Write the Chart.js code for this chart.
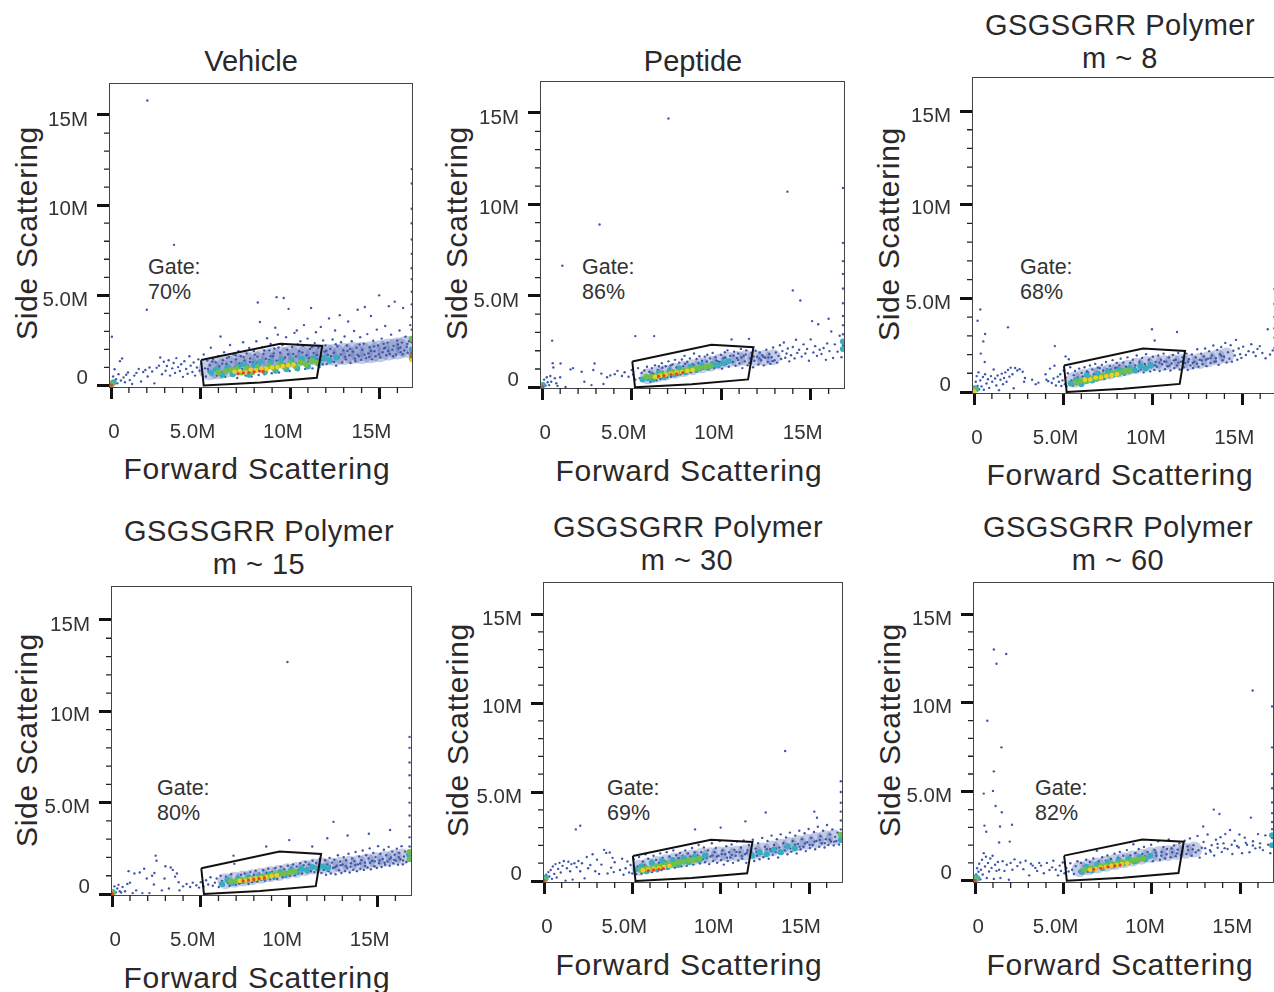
<!DOCTYPE html>
<html>
<head>
<meta charset="utf-8">
<title>Forward and side scattering gates</title>
<script src="https://cdn.jsdelivr.net/npm/chart.js@4"></script>
<style>
html,body{margin:0;padding:0;background:#fff}
#stage{position:relative;width:1274px;height:992px;overflow:hidden;font-family:"Liberation Sans",Arial,sans-serif;color:#2b2829}
#stage canvas{position:absolute}
.txt{position:absolute;white-space:nowrap;transform:translate(-50%,-50%);line-height:1}
.head{font-size:29px}
.wide{font-size:29px;letter-spacing:.5px}
.axis{font-size:30px;letter-spacing:.75px}
.side{font-size:30px;letter-spacing:.7px;transform:translate(-50%,-50%) rotate(-90deg)}
.gate{font-size:21.5px;transform:translateY(-50%);color:#333}
</style>
</head>
<body>
<div id="stage"></div>
<script>
// Axis ticks (values in millions)
const majorTicks = [0, 5, 10, 15];
const majorLabels = ['0', '5.0M', '10M', '15M'];
const xMinorTicks = [1, 2, 3, 4, 6, 7, 8, 9, 11, 12, 13, 14, 16];
const yMinorTicks = [1, 2, 3, 4, 6, 7, 8, 9, 11, 12, 13, 14];

// Gate outline, same in every panel
const gateX = [5.03, 9.45, 11.8, 11.5, 8.35, 5.18, 5.03];
const gateY = [1.41, 2.32, 2.19, 0.43, 0.17, 0.0, 1.41];

const gatePercents = ['70%', '86%', '68%', '80%', '69%', '82%'];

const vehicleBlue = [
0.05,0.22,0.12,0.5,0.2,0.9,0.28,0.35,0.35,0.12,0.42,0.63,0.5,1.35,0.55,0.28,0.62,1.5,0.7,0.45,0.78,0.18,0.85,0.6,0.95,0.72,1.05,0.3,1.18,0.08,1.3,0.55,1.42,0.7,1.55,0.92,1.68,0.22,1.8,0.75,1.92,0.86,2.05,0.5,2.15,1.0,2.3,0.78,2.42,0.12,2.55,0.98,2.68,1.1,2.75,1.55,2.85,0.62,2.95,1.32,3.05,0.82,3.12,1.08,3.22,1.4,3.3,0.55,3.42,0.95,3.5,1.25,3.58,0.7,3.65,1.52,3.75,1.02,3.85,0.8,3.92,1.18,4.02,0.48,4.1,1.35,4.2,0.92,4.28,0.65,4.38,1.62,4.45,1.1,4.55,0.75,4.62,1.28,4.7,0.55,4.8,1.0,4.88,1.45,4.95,0.82,
5.05,1.2,5.1,0.62,5.18,1.72,5.25,0.95,5.3,0.5,5.38,1.38,5.45,0.78,5.52,1.12,5.58,2.1,5.65,0.62,5.7,1.48,5.78,0.9,5.85,1.28,5.92,0.55,5.98,1.62,6.05,1.05,6.12,2.72,6.18,0.72,6.25,1.4,6.32,1.85,6.38,0.48,6.45,1.18,6.52,0.85,6.58,1.58,6.65,2.25,6.72,1.3,6.78,0.6,6.85,1.72,6.92,1.02,6.98,1.45,7.05,0.42,7.12,1.9,7.18,1.22,7.25,1.62,7.32,0.9,7.38,2.4,7.45,1.38,7.52,0.55,7.58,1.78,7.65,1.1,7.72,2.08,7.78,1.5,7.85,0.5,7.92,1.28,7.98,1.92,
8.05,1.05,8.12,2.45,8.18,1.6,8.25,0.58,8.32,3.52,8.38,1.35,8.45,2.12,8.52,1.75,8.58,0.62,8.65,1.48,8.72,2.62,8.78,1.18,8.85,1.95,8.92,2.3,8.98,0.68,9.05,1.62,9.12,2.05,9.18,3.2,9.25,1.38,9.32,2.82,9.38,0.72,9.45,1.82,9.52,1.25,9.58,2.25,9.65,4.85,9.72,1.55,9.78,2.68,9.85,1.98,9.92,4.25,9.98,0.8,10.05,1.4,10.12,2.15,10.18,1.75,10.25,2.92,10.32,1.22,10.38,3.05,10.45,0.85,10.52,1.9,10.58,2.45,10.65,1.5,10.72,2.2,10.78,3.35,10.85,0.92,10.92,1.68,10.98,2.6,11.05,1.32,11.12,2.02,11.18,4.3,11.25,0.95,11.32,1.8,11.38,2.35,11.45,2.95,11.52,1.45,11.58,2.1,11.65,1.02,11.72,3.25,11.78,1.62,11.85,2.5,11.92,1.88,11.98,2.22,
12.05,1.2,12.12,1.7,12.18,3.72,12.25,2.02,12.32,1.35,12.38,2.55,12.45,1.82,12.52,3.05,12.58,1.1,12.65,2.18,12.72,1.55,12.78,3.9,12.85,2.4,12.92,1.28,12.98,1.95,13.05,2.72,13.12,1.45,13.18,2.22,13.25,3.55,13.32,1.68,13.38,1.25,13.45,2.45,13.52,1.88,13.58,3.02,13.65,1.35,13.72,2.1,13.78,4.2,13.85,1.62,13.92,2.68,13.98,1.42,14.05,1.98,14.12,2.32,14.18,4.35,14.25,1.52,14.32,2.85,14.38,1.78,14.45,2.12,14.52,3.85,14.58,1.45,14.65,2.48,14.72,1.9,14.78,1.62,14.85,3.1,14.92,2.22,14.98,5.0,15.05,1.55,15.12,2.6,15.18,1.85,15.25,2.05,15.32,3.3,15.38,1.68,15.45,2.38,15.52,4.4,15.58,1.75,15.65,2.82,15.72,1.98,15.78,2.2,15.85,4.65,15.92,1.72,15.98,2.5,16.05,2.05,16.12,3.05,16.18,1.85,16.25,2.38,16.32,4.3,16.38,1.95,16.45,2.7,16.52,2.15,16.58,1.82,16.65,2.45,16.72,3.35,
16.8,2.4,16.8,3.1,16.8,3.8,16.8,4.5,16.8,5.2,16.8,5.9,16.8,6.5,16.8,7.3,16.8,8.1,16.8,9.0,16.8,9.8,16.8,11.2,16.8,12.0,
2.03,15.8,3.52,7.8,2.0,4.2,0.05,2.7,9.25,4.9,8.2,4.6,
5.41,0.92,5.67,1.33,5.93,0.77,6.21,1.21,6.47,1.52,6.74,0.92,6.97,1.68,7.23,1.08,7.49,1.91,7.76,1.31,8.03,1.71,8.29,1.13,8.56,1.94,8.83,1.42,9.09,1.78,9.36,2.11,9.63,1.46,9.89,1.73,10.16,1.33,10.43,2.27,10.69,1.83,10.96,1.27,11.23,2.13,11.49,1.69,11.76,1.41,12.03,1.93,12.29,1.62,12.56,2.29,12.83,1.72,13.09,1.59,13.36,2.03,13.63,1.49,13.89,2.27,14.16,1.71,14.43,1.58,14.69,2.17,14.96,1.72,15.23,2.31,15.49,1.91,15.76,1.62,16.03,2.27,16.29,1.73,16.56,2.31,6.63,1.03,7.41,1.59,8.17,1.29,8.91,1.63,9.69,1.17,10.33,1.61,11.08,1.51,11.83,1.17,12.47,1.31,13.21,1.91,13.77,1.71,14.53,1.92,15.31,2.09,16.17,2.11];
const vehicleHaze = [
5.5,0.9,6.0,0.95,6.5,1.05,7.0,1.15,7.5,1.25,8.0,1.3,8.5,1.4,9.0,1.5,9.5,1.55,10.0,1.6,10.5,1.65,11.0,1.7,11.5,1.7,12.0,1.7,12.5,1.7,13.0,1.75,13.5,1.8,14.0,1.8,14.5,1.85,15.0,1.9,15.5,2.0,16.0,2.05,16.5,2.15];
const vehicleCyan = [
0.05,0.1,0.15,0.18,5.6,0.72,5.9,0.9,6.2,0.58,6.5,1.0,6.8,0.62,7.1,1.02,7.4,1.2,7.7,0.6,8.0,1.12,8.3,1.3,8.6,0.75,8.9,1.28,9.2,0.82,9.5,1.4,9.8,0.9,10.1,1.42,10.4,0.95,10.7,1.5,11.0,1.05,11.3,1.52,11.6,1.2,11.9,1.5,12.2,1.4,12.6,1.55,16.8,1.7,16.8,2.0];
const vehicleGreen = [
0.04,0.06,6.0,0.72,6.4,0.8,6.7,0.88,7.0,0.92,7.3,0.72,7.6,0.98,7.9,0.74,8.2,1.02,8.5,0.84,8.8,1.08,9.1,0.96,9.4,1.15,9.7,1.02,10.0,1.22,10.3,1.08,10.6,1.28,10.9,1.18,11.2,1.36,11.5,1.3,16.8,1.5,16.8,2.6];
const vehicleYellow = [
6.9,0.76,7.2,0.8,7.5,0.72,7.8,0.86,8.1,0.84,8.4,0.92,8.7,0.92,9.0,1.0,9.3,1.02,9.6,1.08,9.9,1.12,10.2,1.16,16.8,1.4];
const vehicleRed = [
0.03,0.03,7.1,0.66,7.4,0.7,7.7,0.72,8.0,0.76,8.3,0.8,8.5,0.78,16.8,1.6,16.8,1.8];

const peptideBlue = [
0.05,0.2,0.1,0.42,0.18,0.1,0.25,0.55,0.3,0.28,0.38,0.12,0.45,0.62,0.5,0.3,0.55,2.55,0.58,1.32,0.62,1.08,0.7,0.5,0.78,0.22,0.85,0.08,1.0,0.55,1.02,1.3,1.12,6.65,1.3,0.02,1.58,0.98,1.72,1.05,2.2,0.85,2.35,0.3,2.75,0.12,2.85,0.95,2.92,1.3,3.3,0.75,3.42,0.18,3.62,0.55,3.8,0.65,4.05,0.72,4.2,0.9,4.45,0.62,4.6,0.82,4.82,0.58,5.0,0.95,5.08,0.7,5.2,0.42,5.35,1.05,5.45,0.5,5.55,0.78,5.62,0.35,5.7,0.92,5.78,0.6,5.85,1.12,5.92,0.42,5.98,0.85,6.05,0.3,6.12,1.05,6.2,0.72,6.25,2.8,6.3,1.2,6.38,0.38,6.45,0.95,6.52,1.15,6.6,0.45,6.68,1.32,6.75,0.82,6.82,0.5,6.9,1.15,6.98,0.55,7.05,1.42,7.12,1.02,7.2,0.58,7.28,1.25,7.35,0.62,7.42,1.5,7.5,1.08,7.58,0.68,7.65,1.35,7.72,0.72,7.8,1.52,7.88,1.15,7.95,1.72,8.02,0.78,8.1,1.4,8.18,0.88,8.25,1.58,8.32,0.82,8.4,1.28,8.48,1.85,8.55,0.9,8.62,1.55,8.7,1.05,8.78,1.7,8.85,0.95,8.92,1.45,9.0,1.02,9.08,1.68,9.15,1.12,9.22,1.78,9.3,0.98,9.38,1.58,9.45,1.15,9.52,1.88,9.6,1.05,9.68,1.65,9.75,1.22,9.82,1.42,9.9,1.12,9.98,1.78,10.05,1.02,10.12,1.58,10.2,1.92,10.28,1.28,10.35,2.02,10.42,1.12,10.5,1.72,10.58,2.62,10.65,1.38,10.72,1.95,10.8,1.18,10.88,1.6,10.95,1.85,11.02,1.3,11.1,2.1,11.18,1.05,11.25,1.72,11.32,1.42,11.4,2.02,11.48,1.2,11.55,2.65,11.62,1.58,11.7,1.88,11.78,1.1,11.85,1.45,11.92,2.0,12.0,1.68,12.08,1.25,12.15,1.9,12.22,1.48,12.3,1.75,12.38,1.2,12.45,1.62,12.52,2.05,12.6,1.38,12.68,1.82,12.75,1.28,12.82,1.65,12.9,2.18,12.98,1.48,13.05,1.9,13.12,1.35,13.2,1.72,13.28,2.3,13.35,1.55,13.42,1.98,13.5,2.45,13.58,1.62,13.65,1.85,13.72,2.12,13.8,1.42,13.9,1.75,14.0,2.2,14.1,1.58,14.18,2.6,14.25,1.88,14.35,2.05,14.42,4.75,14.5,1.68,14.6,2.35,14.7,1.85,14.8,2.1,14.9,1.45,15.0,2.62,15.08,3.62,15.15,1.9,15.25,2.25,15.35,1.72,15.42,3.45,15.5,2.05,15.6,1.82,15.72,2.15,15.85,1.5,15.92,2.4,16.0,3.75,16.05,1.98,16.15,3.05,16.25,1.6,16.35,2.35,16.5,1.95,16.62,2.82,16.72,1.65,
16.8,2.3,16.8,2.9,16.8,3.4,16.8,3.9,16.8,4.6,16.8,5.4,16.8,6.2,16.8,6.9,16.8,7.9,16.8,10.9,
3.2,8.9,7.05,14.7,13.7,10.7,14.0,5.3,5.2,2.8,
6.11,0.77,6.43,0.63,6.71,1.07,6.93,0.69,7.17,1.19,7.46,0.83,7.69,1.03,7.97,1.29,8.23,1.07,8.47,1.19,8.73,1.33,8.97,1.23,9.19,1.41,9.43,1.33,9.71,1.47,9.93,1.39,10.23,1.63,10.47,1.41,10.69,1.73,10.93,1.49,11.13,1.63,11.37,1.79,11.57,1.33,11.81,1.69,12.13,1.58,12.37,1.67,12.63,1.63,12.87,1.43];
const peptideHaze = [
5.9,0.6,6.4,0.7,6.9,0.8,7.4,0.9,7.9,1.0,8.4,1.1,8.9,1.2,9.4,1.3,9.9,1.4,10.4,1.5,10.9,1.55,11.4,1.6,11.9,1.6,12.4,1.6,12.9,1.65];
const peptideCyan = [
0.03,0.12,5.6,0.42,5.9,0.5,6.2,0.42,6.5,0.78,6.8,0.55,7.1,0.88,7.4,0.72,7.7,1.02,8.0,0.82,8.3,1.12,8.6,0.95,8.9,1.22,9.2,1.08,9.5,1.28,9.8,1.2,10.1,1.32,10.4,1.42,16.8,2.1,16.8,2.5];
const peptideGreen = [
5.8,0.58,6.1,0.6,6.4,0.62,6.7,0.72,7.0,0.74,7.3,0.84,7.6,0.84,7.9,0.92,8.2,0.96,8.5,1.02,8.8,1.06,9.1,1.12,9.4,1.16];
const peptideYellow = [
6.3,0.58,6.6,0.64,6.9,0.7,7.2,0.74,7.5,0.8,7.8,0.84,8.1,0.9,8.4,0.95];
const peptideRed = [
0.02,0.04,6.5,0.6,6.8,0.64,7.2,0.7,7.5,0.74,7.85,0.8];

const polymer8Blue = [
0.05,0.25,0.1,0.55,0.15,0.85,0.2,0.32,0.25,1.05,0.28,0.15,0.35,0.62,0.42,0.3,0.5,0.8,0.55,0.12,0.62,0.95,0.7,0.45,0.78,0.68,0.85,0.22,0.95,0.85,1.02,0.55,1.1,1.2,1.18,0.72,1.25,0.35,1.32,0.88,1.4,0.1,1.48,0.65,1.55,0.98,1.62,0.42,1.68,0.75,1.75,1.05,1.82,0.55,1.9,1.18,1.98,0.82,2.05,1.3,2.15,0.95,2.22,0.2,2.3,1.28,2.42,1.15,2.55,1.22,2.72,1.08,2.8,0.55,2.85,0.75,3.25,0.65,3.45,0.42,3.6,0.5,4.0,0.95,4.05,0.65,4.15,0.58,4.25,1.25,4.35,0.48,4.45,0.72,4.5,1.4,4.58,0.35,4.68,0.82,4.75,0.55,4.82,0.95,4.88,0.32,4.95,0.62,5.02,1.15,5.08,0.42,5.12,0.78,5.18,0.3,5.25,1.0,5.32,0.48,5.38,1.32,5.45,0.62,5.52,0.35,5.58,0.9,5.65,1.12,5.72,0.42,5.8,0.78,5.88,1.25,5.95,0.48,6.02,1.02,6.1,0.62,6.18,1.32,6.25,0.5,6.32,1.1,6.4,0.82,6.48,1.42,6.55,0.58,6.62,1.2,6.7,0.95,6.78,1.5,6.85,0.62,6.92,1.3,7.0,1.05,7.08,0.72,7.15,1.45,7.22,1.15,7.3,0.7,7.38,1.6,7.45,1.22,7.52,0.8,7.6,1.38,7.68,1.02,7.75,1.7,7.82,0.85,7.9,1.28,7.98,1.55,8.05,0.88,8.12,1.42,8.2,1.78,8.28,1.0,8.35,1.58,8.42,0.92,8.5,1.35,8.58,1.85,8.65,1.02,8.72,1.55,8.8,1.18,8.88,1.72,8.95,1.08,9.02,1.42,9.1,1.95,9.18,1.12,9.25,1.62,9.32,1.2,9.4,1.82,9.48,1.05,9.55,1.5,9.62,2.02,9.7,1.28,9.78,1.72,9.85,1.1,9.92,1.45,10.0,1.88,10.08,1.18,10.15,1.6,10.22,1.35,10.3,1.95,10.38,1.12,10.45,1.72,10.52,1.48,10.6,2.05,10.68,1.22,10.75,1.62,10.82,1.38,10.9,1.85,10.98,1.15,11.05,1.52,11.12,1.98,11.2,1.28,11.28,1.72,11.35,1.42,11.42,2.08,11.5,1.2,11.58,1.62,11.65,1.85,11.72,1.32,11.8,1.55,11.88,2.05,11.95,1.18,12.02,1.75,12.1,1.42,12.18,2.0,12.25,1.28,12.32,1.62,12.4,1.85,12.48,2.28,12.55,1.35,12.62,1.72,12.7,2.05,12.78,1.48,12.85,1.9,12.92,2.32,13.0,1.38,13.08,1.78,13.15,2.18,13.22,1.55,13.3,1.95,13.38,2.48,13.45,1.62,13.52,1.8,13.6,2.25,13.68,1.45,13.75,2.02,13.82,2.4,13.9,1.7,13.98,1.88,14.05,2.62,14.12,1.58,14.2,2.12,14.28,1.78,14.35,2.5,14.42,1.62,14.5,2.2,14.58,1.95,14.65,2.78,14.72,1.72,14.8,2.32,14.88,2.02,14.95,1.82,15.05,2.42,15.2,1.98,15.35,2.18,15.5,2.55,15.62,2.12,15.75,1.92,15.85,2.3,15.98,2.45,16.12,2.08,16.3,1.8,16.42,3.35,16.55,2.0,16.7,2.22,
16.8,2.35,16.8,2.9,16.8,3.4,16.8,4.0,16.8,4.7,16.8,5.5,
0.35,4.4,0.2,3.8,0.62,3.1,0.52,2.7,0.38,2.05,0.6,1.6,1.9,3.45,9.95,3.35,11.35,3.2,10.1,2.75,5.12,1.9,5.3,1.75,4.52,2.45,
5.63,0.71,6.07,0.83,6.37,1.03,6.67,0.77,7.03,1.27,7.33,0.93,7.63,1.21,8.01,1.31,8.33,1.21,8.67,1.37,8.99,1.27,9.27,1.51,9.59,1.38,9.83,1.53,10.11,1.43,10.37,1.57,10.63,1.63,10.93,1.41,11.17,1.69,11.43,1.57,11.69,1.67,11.97,1.62,12.23,1.55,12.47,1.51,12.73,1.69,12.97,1.72,13.23,1.81,13.53,1.63,13.83,1.92];
const polymer8Haze = [
5.6,0.65,6.1,0.8,6.6,0.9,7.1,1.0,7.6,1.1,8.1,1.2,8.6,1.3,9.1,1.4,9.6,1.5,10.1,1.55,10.6,1.55,11.1,1.6,11.6,1.6,12.1,1.6,12.6,1.65,13.1,1.75,13.6,1.85,14.1,1.95];
const polymer8Cyan = [
0.04,0.2,0.12,0.15,5.4,0.45,5.7,0.65,6.0,0.42,6.3,0.88,6.6,0.62,6.9,0.98,7.2,0.82,7.5,1.1,7.8,0.95,8.1,1.18,8.4,1.05,8.7,1.28,9.0,1.15,9.3,1.38,9.6,1.25,9.9,1.42];
const polymer8Green = [
0.02,0.1,5.7,0.5,6.0,0.6,6.3,0.58,6.6,0.74,6.9,0.72,7.2,0.9,7.5,0.88,7.8,1.02,8.1,1.0,8.4,1.12,8.7,1.12];
const polymer8Yellow = [
0.02,0.03,6.2,0.66,6.5,0.66,6.8,0.76,7.1,0.78,7.4,0.84,7.7,0.9,8.0,0.94];
const polymer8Red = [];

const polymer15Blue = [
0.05,0.18,0.12,0.42,0.2,0.08,0.28,0.3,0.35,0.5,0.42,0.15,0.5,0.08,0.58,0.38,0.72,0.15,0.85,0.55,0.92,1.25,1.0,0.62,1.15,0.05,1.25,1.12,1.35,0.2,1.55,1.18,1.7,0.05,1.8,1.38,1.95,0.85,2.1,0.05,2.25,1.0,2.35,0.52,2.38,1.15,2.45,2.1,2.5,1.82,2.8,0.2,2.95,0.85,3.0,1.52,3.2,0.3,3.3,1.45,3.42,1.32,3.55,0.95,3.65,1.12,3.75,0.65,3.8,0.2,4.0,0.42,4.2,0.55,4.4,0.38,4.55,0.62,4.75,0.48,4.9,0.35,5.0,0.65,5.15,0.42,5.3,0.75,5.42,0.52,5.55,0.92,5.68,0.45,5.8,0.62,5.9,0.85,6.02,0.38,6.12,1.0,6.2,0.72,6.3,0.48,6.42,0.95,6.52,0.62,6.62,0.45,6.72,1.08,6.8,0.7,6.9,1.65,6.98,0.5,7.08,0.95,7.18,0.58,7.28,1.05,7.38,0.62,7.48,1.12,7.58,0.72,7.7,0.55,7.8,1.2,7.9,0.65,8.0,1.05,8.1,1.28,8.2,0.68,8.3,1.12,8.42,0.78,8.52,1.3,8.62,0.72,8.72,1.15,8.82,1.38,8.92,0.8,9.02,1.2,9.12,0.85,9.22,1.42,9.32,0.82,9.42,1.28,9.52,1.5,9.62,0.92,9.72,1.35,9.82,0.95,9.92,1.55,10.02,1.0,10.12,1.42,10.22,1.62,10.32,1.02,10.42,1.5,10.52,1.12,10.62,1.68,10.72,1.12,10.82,1.58,10.92,1.75,11.02,1.18,11.12,1.62,11.22,1.25,11.32,1.82,11.42,1.2,11.52,1.7,11.62,1.35,11.72,1.92,11.82,1.15,11.88,1.55,11.95,1.32,12.02,1.85,12.08,1.05,12.15,1.62,12.22,1.25,12.28,1.98,12.35,1.12,12.42,1.72,12.48,1.42,12.55,1.88,12.62,1.08,12.68,1.55,12.75,2.12,12.82,1.3,12.88,1.78,12.95,1.15,13.02,1.62,13.08,2.02,13.15,1.25,13.22,1.85,13.28,1.42,13.35,2.2,13.42,1.18,13.48,1.68,13.55,1.95,13.62,1.32,13.68,1.8,13.75,2.3,13.82,1.25,13.88,1.62,13.95,2.05,14.02,1.38,14.08,1.85,14.15,2.38,14.22,1.32,14.28,1.72,14.35,2.12,14.42,1.45,14.48,1.95,14.55,2.5,14.62,1.35,14.68,1.82,14.75,2.25,14.82,1.52,14.88,2.02,14.95,1.42,15.02,2.62,15.08,1.68,15.15,2.2,15.22,1.48,15.28,1.92,15.35,2.42,15.42,1.6,15.48,2.12,15.55,1.78,15.62,2.58,15.68,1.55,15.75,2.0,15.82,2.32,15.88,1.68,15.95,2.15,16.02,1.82,16.08,2.48,16.15,1.6,16.22,2.25,16.28,1.9,16.35,2.62,16.42,1.62,16.48,2.05,16.55,2.32,16.62,1.75,16.68,2.18,16.75,1.92,
16.8,2.6,16.8,3.1,16.8,3.7,16.8,4.3,16.8,5.0,16.8,5.8,16.8,6.5,16.8,7.2,16.8,8.0,16.8,8.6,
9.9,12.7,12.5,3.95,14.5,3.3,15.7,3.5,12.15,3.05,13.3,3.2,10.0,2.95,11.3,2.6,6.85,2.1,8.7,2.6,
11.71,1.53,12.03,1.41,12.31,1.51,12.59,1.47,12.91,1.58,13.19,1.53,13.46,1.49,13.73,1.59,14.01,1.67,14.29,1.53,14.57,1.71,14.83,1.79,15.11,1.83,15.39,1.71,15.67,1.91,15.93,1.87,16.19,2.01,16.43,1.84,10.57,1.33,10.97,1.41,11.27,1.53,11.57,1.41];
const polymer15Haze = [
6.4,0.7,6.9,0.78,7.4,0.85,7.9,0.92,8.4,1.0,8.9,1.08,9.4,1.15,9.9,1.25,10.4,1.32,10.9,1.42,11.4,1.5,11.9,1.55,12.4,1.55,12.9,1.6,13.4,1.65,13.9,1.7,14.4,1.78,14.9,1.85,15.4,1.92,15.9,2.0,16.4,2.05];
const polymer15Cyan = [
0.03,0.1,6.2,0.55,6.5,0.78,6.8,0.6,7.1,0.82,7.4,0.7,7.7,0.92,8.0,0.8,8.3,0.98,8.6,0.9,8.9,1.08,9.2,1.0,9.5,1.18,9.8,1.1,10.1,1.28,10.4,1.2,10.7,1.38,11.0,1.3,11.3,1.48,11.6,1.4,11.9,1.5,12.2,1.42,16.8,2.1];
const polymer15Green = [
0.02,0.05,6.7,0.7,7.0,0.72,7.3,0.78,7.6,0.78,7.9,0.86,8.2,0.88,8.5,0.94,8.8,0.96,9.1,1.04,9.4,1.08,9.7,1.14,10.0,1.18,10.3,1.24,16.8,1.9,16.8,2.3];
const polymer15Yellow = [
7.2,0.72,7.5,0.74,7.8,0.8,8.1,0.84,8.4,0.88,8.7,0.92,9.0,0.98,9.3,1.02];
const polymer15Red = [
0.01,0.02,7.4,0.72,7.7,0.76,8.0,0.8,8.3,0.84,8.6,0.88];

const polymer30Blue = [
0.05,0.15,0.12,0.35,0.18,0.08,0.25,0.5,0.3,0.25,0.38,0.62,0.45,0.12,0.5,0.82,0.58,0.4,0.65,0.95,0.72,0.2,0.8,0.68,0.88,1.02,0.95,0.48,1.05,0.85,1.12,1.12,1.22,0.02,1.3,0.72,1.38,1.08,1.48,0.55,1.55,0.95,1.62,0.08,1.72,1.0,1.8,2.9,1.85,0.78,1.95,1.12,2.05,0.55,2.15,1.0,2.3,0.15,2.42,1.35,2.5,0.72,2.62,0.9,2.75,1.5,2.9,0.55,3.0,1.2,3.12,0.4,3.25,0.92,3.4,1.75,3.52,1.58,3.6,0.42,3.72,1.6,3.8,0.75,3.88,1.3,3.95,0.5,4.0,1.05,4.3,0.62,4.42,1.25,4.5,0.35,4.62,0.72,4.72,1.1,4.82,0.48,4.9,0.9,5.0,0.42,5.08,1.22,5.15,0.55,5.22,0.38,5.3,0.82,5.38,1.35,5.45,0.62,5.52,0.42,5.6,1.1,5.68,0.88,5.75,1.5,5.82,0.48,5.9,1.25,5.98,0.62,6.05,1.02,6.12,0.5,6.2,1.42,6.28,0.72,6.35,1.18,6.42,0.55,6.5,1.02,6.58,1.55,6.65,0.62,6.72,1.3,6.8,0.7,6.88,1.1,6.95,1.62,7.02,0.68,7.1,1.38,7.18,0.82,7.25,1.2,7.32,1.72,7.4,0.75,7.48,1.45,7.55,0.9,7.62,1.28,7.7,1.58,7.78,0.82,7.85,1.42,7.92,1.02,8.0,1.72,8.08,0.85,8.15,1.55,8.22,1.18,8.3,1.38,8.38,1.85,8.45,0.92,8.52,1.6,8.6,1.12,8.68,1.42,8.75,2.02,8.82,0.98,8.9,1.62,8.98,1.22,9.05,1.88,9.12,1.05,9.2,1.5,9.28,1.72,9.35,0.95,9.42,1.38,9.5,2.12,9.58,1.12,9.65,1.62,9.72,1.85,9.8,1.02,9.88,1.42,9.95,2.25,10.02,1.18,10.1,1.72,10.18,0.92,10.25,1.5,10.32,1.95,10.4,1.12,10.48,1.62,10.55,1.32,10.62,2.05,10.7,1.02,10.78,1.75,10.85,1.42,10.92,2.22,11.0,1.15,11.08,1.62,11.15,1.88,11.22,1.25,11.3,2.28,11.38,1.5,11.45,1.02,11.52,1.72,11.6,2.02,11.68,1.32,11.75,1.58,11.82,2.32,11.9,1.12,11.98,1.82,12.05,1.42,12.12,2.12,12.2,1.22,12.28,1.68,12.35,2.42,12.42,1.35,12.5,1.92,12.58,1.58,12.65,2.25,12.72,1.25,12.8,1.78,12.88,2.55,12.95,1.48,13.02,2.02,13.1,1.62,13.18,2.35,13.25,1.32,13.32,1.88,13.4,2.62,13.48,1.55,13.55,2.12,13.62,1.72,13.7,2.45,13.78,1.5,13.85,1.98,13.92,2.72,14.0,1.65,14.08,2.25,14.15,1.85,14.22,2.55,14.3,1.55,14.38,2.08,14.45,2.82,14.52,1.78,14.6,2.35,14.68,1.92,14.75,2.68,14.82,1.68,14.9,2.18,14.98,2.92,15.05,1.85,15.12,2.42,15.2,2.02,15.28,2.75,15.35,1.78,15.42,2.25,15.5,3.05,15.58,1.92,15.65,2.52,15.72,2.12,15.8,2.82,15.88,1.88,15.95,2.35,16.02,3.15,16.1,2.02,16.18,2.62,16.25,2.22,16.32,2.9,16.4,2.0,16.48,2.48,16.55,2.25,16.62,2.72,16.7,2.05,16.76,2.42,
16.8,2.9,16.8,3.4,16.8,3.9,16.8,4.4,16.8,5.0,16.8,5.6,
13.65,7.3,15.3,3.9,11.4,3.35,12.55,3.85,10.0,3.0,8.55,2.9,2.05,3.1,15.45,3.55,
9.21,1.31,9.53,1.43,9.79,1.37,10.07,1.51,10.36,1.31,10.63,1.47,10.89,1.63,11.19,1.41,11.47,1.57,11.73,1.49,12.03,1.63,12.31,1.53,12.61,1.79,12.87,1.67,13.13,1.83,13.41,1.71,13.67,1.93,13.94,1.83,14.21,2.03,14.47,1.93,14.77,2.11,15.03,2.03,15.31,2.21,15.61,2.31,15.89,2.13,16.17,2.33,16.43,2.21];
const polymer30Haze = [
5.4,0.75,5.9,0.85,6.4,0.95,6.9,1.05,7.4,1.15,7.9,1.25,8.4,1.32,8.9,1.4,9.4,1.45,9.9,1.5,10.4,1.52,10.9,1.55,11.4,1.6,11.9,1.65,12.4,1.72,12.9,1.82,13.4,1.92,13.9,2.02,14.4,2.12,14.9,2.2,15.4,2.3,15.9,2.4,16.4,2.45];
const polymer30Cyan = [
0.04,0.12,0.1,0.2,5.2,0.65,5.5,0.82,5.8,0.55,6.1,1.02,6.4,0.68,6.7,1.12,7.0,0.78,7.3,1.18,7.6,0.9,7.9,1.28,8.2,1.05,8.5,1.35,8.8,1.2,9.1,1.42,11.8,1.42,12.2,1.62,12.6,1.5,13.0,1.75,13.4,1.62,13.8,1.95,14.2,1.82,16.8,2.3];
const polymer30Green = [
0.02,0.06,5.5,0.62,5.8,0.72,6.1,0.68,6.4,0.84,6.7,0.84,7.0,0.98,7.3,0.92,7.6,1.06,7.9,1.08,8.2,1.18,8.5,1.18,8.8,1.28,16.8,2.6];
const polymer30Yellow = [
5.6,0.6,5.9,0.64,6.2,0.68,6.5,0.72,6.8,0.78,7.1,0.84];
const polymer30Red = [
0.0,0.03,5.9,0.58,6.2,0.62,6.5,0.66,6.75,0.7];

const polymer60Blue = [
0.05,0.35,0.1,0.7,0.12,0.18,0.18,0.5,0.22,0.95,0.28,0.08,0.32,0.62,0.38,1.18,0.42,0.35,0.48,1.55,0.55,0.8,0.6,1.35,0.65,0.15,0.72,1.0,0.78,0.52,0.85,1.25,0.92,0.72,0.98,1.4,1.05,0.1,1.12,0.9,1.2,0.55,1.28,1.05,1.35,0.62,1.42,0.15,1.55,1.1,1.65,0.55,1.78,0.9,1.9,0.05,2.0,1.0,2.1,0.62,2.22,1.2,2.38,0.82,2.55,1.02,2.72,0.65,2.85,1.12,3.05,0.3,3.15,0.95,3.25,0.85,3.4,0.72,3.5,0.55,3.62,1.0,3.72,0.85,3.88,0.42,4.05,1.0,4.2,0.6,4.35,0.75,4.42,1.12,4.55,0.62,4.68,0.3,4.78,0.85,4.85,0.55,4.95,1.02,5.05,0.42,5.15,0.72,5.28,0.52,5.38,0.98,5.48,0.62,5.58,0.38,5.68,0.82,5.78,1.1,5.88,0.52,5.98,1.0,6.08,0.42,6.18,0.82,6.28,1.18,6.38,0.5,6.48,1.05,6.58,0.58,6.68,1.25,6.78,0.62,6.88,1.68,6.98,1.1,7.08,0.68,7.18,1.32,7.28,0.7,7.38,1.12,7.48,1.42,7.58,0.78,7.68,1.22,7.78,0.85,7.88,1.52,7.98,0.82,8.08,1.28,8.18,1.62,8.28,0.92,8.38,1.4,8.48,1.0,8.58,1.72,8.68,0.95,8.78,1.42,8.88,1.08,8.95,2.05,9.05,1.55,9.15,1.05,9.25,1.78,9.35,1.15,9.45,1.5,9.55,1.9,9.65,1.12,9.75,1.62,9.85,1.32,9.95,2.02,10.05,1.1,10.15,1.72,10.25,1.4,10.35,2.22,10.45,1.18,10.55,1.62,10.65,1.9,10.75,1.25,10.85,1.78,10.95,2.32,11.05,1.32,11.15,1.6,11.25,1.98,11.35,1.38,11.45,1.75,11.55,2.1,11.65,1.45,11.75,1.85,11.85,2.25,11.95,1.5,12.05,1.72,12.15,2.38,12.25,1.4,12.35,2.0,12.48,1.6,12.58,2.52,12.7,1.3,12.82,1.85,12.92,2.18,13.05,1.52,13.15,2.6,13.28,1.72,13.38,2.0,13.52,1.42,13.62,2.3,13.72,1.85,13.82,3.75,13.88,2.45,13.95,1.62,14.05,2.1,14.15,2.62,14.28,1.78,14.42,2.85,14.55,1.5,14.68,2.25,14.82,1.95,14.95,2.6,15.1,1.55,15.25,2.42,15.38,2.02,15.52,1.6,15.6,3.55,15.72,2.22,15.85,1.82,16.0,2.62,16.12,2.1,16.28,1.72,16.42,2.55,16.58,2.02,16.7,1.55,
16.8,2.4,16.8,2.9,16.8,3.3,16.8,3.8,16.8,4.4,16.8,5.2,16.8,6.0,16.8,7.5,16.8,9.8,
1.05,13.0,1.2,12.2,1.75,12.75,0.68,9.0,1.48,7.5,1.05,6.15,1.0,5.05,0.48,4.9,1.15,4.2,1.5,3.85,0.52,3.1,1.4,3.05,2.08,3.15,0.62,2.75,1.35,2.15,1.95,2.2,15.7,10.7,13.5,4.0,12.9,3.05,
9.61,1.37,9.93,1.43,10.21,1.57,10.53,1.41,10.83,1.49,11.11,1.81,11.41,1.53,11.71,1.67,12.01,1.93,12.31,1.77,12.63,1.71,13.01,1.83,13.33,1.63,13.71,2.07,14.11,1.83,14.51,2.02,14.91,1.87,15.31,2.13,15.71,1.98,16.11,1.87];
const polymer60Haze = [
5.9,0.65,6.4,0.75,6.9,0.85,7.4,0.95,7.9,1.05,8.4,1.15,8.9,1.25,9.4,1.35,9.9,1.45,10.4,1.5,10.9,1.55,11.4,1.62,11.9,1.68,12.4,1.75];
const polymer60Cyan = [
0.03,0.2,0.12,0.12,6.0,0.5,6.3,0.78,6.6,0.58,6.9,0.92,7.2,0.72,7.5,1.02,7.8,0.85,8.1,1.12,8.4,0.98,8.7,1.22,9.0,1.08,9.3,1.32,9.6,1.2,9.9,1.4,16.8,2.0,16.8,2.55];
const polymer60Green = [
0.02,0.08,6.2,0.62,6.5,0.68,6.8,0.72,7.1,0.82,7.4,0.84,7.7,0.94,8.0,0.94,8.3,1.04,8.6,1.06,8.9,1.14,9.2,1.18,9.5,1.26];
const polymer60Yellow = [
6.5,0.62,6.8,0.66,7.1,0.74,7.4,0.78,7.7,0.84,8.0,0.88,8.3,0.94,8.6,0.98];
const polymer60Red = [
0.0,0.02,6.7,0.64,7.1,0.7,7.5,0.78,7.9,0.84,8.2,0.88];

const panelLeft = [109, 540, 972, 111, 543, 973];
const panelRight = [412, 844, 1276, 411, 842, 1273];
const panelTop = [83, 81, 77, 586, 582, 582];
const panelBottom = [387, 388, 393, 895, 882, 882];
const xZeroPx = [111, 542.3, 974, 112.3, 544, 975.3];
const xFifteenPx = [379.5, 810.7, 1242.3, 377.7, 809, 1240.3];
const yZeroPx = [385.5, 387.3, 392, 894, 881, 880.7];
const yFifteenPx = [115, 113, 111, 620, 614, 614];

const blueSets = [vehicleBlue, peptideBlue, polymer8Blue, polymer15Blue, polymer30Blue, polymer60Blue];
const hazeSets = [vehicleHaze, peptideHaze, polymer8Haze, polymer15Haze, polymer30Haze, polymer60Haze];
const cyanSets = [vehicleCyan, peptideCyan, polymer8Cyan, polymer15Cyan, polymer30Cyan, polymer60Cyan];
const greenSets = [vehicleGreen, peptideGreen, polymer8Green, polymer15Green, polymer30Green, polymer60Green];
const yellowSets = [vehicleYellow, peptideYellow, polymer8Yellow, polymer15Yellow, polymer30Yellow, polymer60Yellow];
const redSets = [vehicleRed, peptideRed, polymer8Red, polymer15Red, polymer30Red, polymer60Red];

const stage = document.getElementById('stage');

// Text
function addText(str, cls, x, y){
  const el = document.createElement('div');
  el.className = 'txt ' + cls;
  el.textContent = str;
  el.style.left = x + 'px';
  el.style.top = y + 'px';
  stage.appendChild(el);
}
addText('Vehicle', 'head', 251, 61);
addText('Peptide', 'head', 693, 61);
addText('GSGSGRR Polymer', 'wide', 1120, 25);
addText('m ~ 8', 'wide', 1120, 58);
addText('GSGSGRR Polymer', 'wide', 259, 531);
addText('m ~ 15', 'wide', 259, 564);
addText('GSGSGRR Polymer', 'wide', 688, 527);
addText('m ~ 30', 'wide', 687, 560);
addText('GSGSGRR Polymer', 'wide', 1118, 527);
addText('m ~ 60', 'wide', 1118, 560);

const forwardAt = [[257,469],[689,471],[1120,475],[257,978],[689,965],[1120,965]];
const sideAt = [[27,233],[457,233],[889,234],[27,740],[458,730],[890,730]];
const gateAt = [[148,267],[582,267],[1020,267],[157,788],[607,788],[1035,788]];
for(let i = 0; i < 6; i++){
  addText('Forward Scattering', 'axis', forwardAt[i][0], forwardAt[i][1]);
  addText('Side Scattering', 'side', sideAt[i][0], sideAt[i][1]);
  addText('Gate:', 'gate', gateAt[i][0], gateAt[i][1] + 1);
  addText(gatePercents[i], 'gate', gateAt[i][0], gateAt[i][1] + 26);
}

// Helpers
function toPoints(flat){
  const pts = [];
  for(let i = 0; i < flat.length; i += 2) pts.push({x: flat[i], y: flat[i + 1]});
  return pts;
}
function cloud(flat, color, radius){
  return {data: toPoints(flat), backgroundColor: color, borderWidth: 0, pointRadius: radius, pointHoverRadius: radius, showLine: false};
}

// Tick labels sit off their ticks in the original figure
const xLabelNudge = [3, -8, -7, -8];
const yLabelNudge = [-7, 5, 4, 5];
const nudgeLabels = {
  id: 'nudgeLabels',
  beforeDraw(chart){
    [['x', 0, xLabelNudge], ['y', 1, yLabelNudge]].forEach(([id, axis, nudge]) => {
      chart.scales[id].getLabelItems().forEach((item, i) => {
        if(item.nudged) return;
        item.options.translation[axis] += nudge[i];
        item.nudged = true;
      });
    });
  }
};
// Frame and the short minor ticks
const frameAndMinors = {
  id: 'frameAndMinors',
  afterDraw(chart){
    const {ctx, chartArea: a, scales} = chart;
    ctx.save();
    ctx.strokeStyle = '#444';
    ctx.lineWidth = 1;
    ctx.strokeRect(a.left + 0.5, a.top + 0.5, a.right - a.left, a.bottom - a.top);
    ctx.strokeStyle = '#222';
    ctx.lineWidth = 1.3;
    ctx.beginPath();
    xMinorTicks.forEach(v => { const p = scales.x.getPixelForValue(v); ctx.moveTo(p, a.bottom); ctx.lineTo(p, a.bottom + 6); });
    yMinorTicks.forEach(v => { const p = scales.y.getPixelForValue(v); ctx.moveTo(a.left, p); ctx.lineTo(a.left - 5, p); });
    ctx.stroke();
    ctx.restore();
  }
};

function axisOptions(min, max, fixFit, pad){
  return {
    type: 'linear', min, max,
    afterBuildTicks(scale){ scale.ticks = majorTicks.map(v => ({value: v})); },
    afterFit: fixFit,
    border: {display: true, color: '#444', width: 1},
    grid: {drawOnChartArea: false, drawTicks: true, tickLength: 12, tickWidth: 3, tickColor: '#111'},
    ticks: {
      autoSkip: false, maxRotation: 0, minRotation: 0, padding: pad, color: '#333',
      font: {family: '"Liberation Sans", Arial, sans-serif', size: 20.5},
      callback: v => majorLabels[majorTicks.indexOf(v)]
    }
  };
}

// One chart per panel
for(let i = 0; i < 6; i++){
  const w = panelRight[i] - panelLeft[i], h = panelBottom[i] - panelTop[i];
  const cv = document.createElement('canvas');
  cv.width = w + 120;
  cv.height = h + 140;
  cv.style.left = (panelLeft[i] - 100) + 'px';
  cv.style.top = (panelTop[i] - 30) + 'px';
  stage.appendChild(cv);

  const pxX = (xFifteenPx[i] - xZeroPx[i]) / 15;
  const pxY = (yZeroPx[i] - yFifteenPx[i]) / 15;

  new Chart(cv.getContext('2d'), {
    type: 'scatter',
    data: {datasets: [
      {data: gateX.map((x, k) => ({x, y: gateY[k]})), showLine: true, borderColor: '#111', borderWidth: 2, pointRadius: 0, fill: false, tension: 0},
      cloud(redSets[i], '#e9402a', 1.6),
      cloud(yellowSets[i], '#f2cf1d', 2.3),
      cloud(greenSets[i], '#6fbf4b', 2.9),
      cloud(cyanSets[i], '#35aebf', 3),
      cloud(blueSets[i], '#3f57a8', 1.2),
      cloud(hazeSets[i], 'rgba(63,87,168,0.3)', i === 0 ? 11 : 8)
    ]},
    options: {
      responsive: false,
      animation: false,
      layout: {padding: {left: 30, right: 20, top: 30, bottom: 10}},
      plugins: {legend: {display: false}, title: {display: false}, tooltip: {enabled: false}},
      scales: {
        x: axisOptions((panelLeft[i] - xZeroPx[i]) / pxX, (panelRight[i] - xZeroPx[i]) / pxX, s => { s.height = 100; }, 21),
        y: axisOptions((yZeroPx[i] - panelBottom[i]) / pxY, (yZeroPx[i] - panelTop[i]) / pxY, s => { s.width = 70; }, 9)
      }
    },
    plugins: [nudgeLabels, frameAndMinors]
  });
}
</script>
</body>
</html>
